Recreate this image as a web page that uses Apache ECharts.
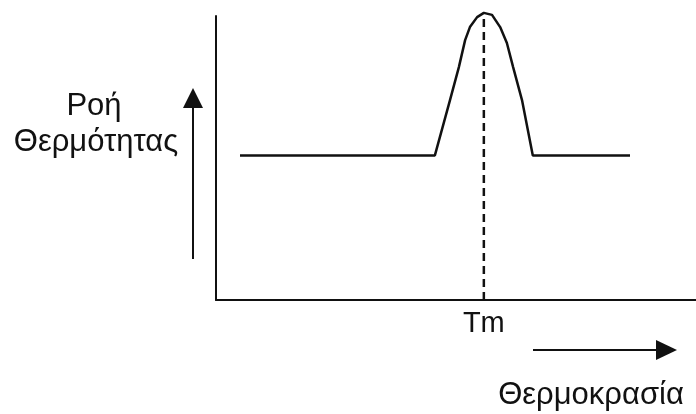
<!DOCTYPE html>
<html>
<head>
<meta charset="utf-8">
<script src="https://cdn.jsdelivr.net/npm/echarts@6/dist/echarts.min.js"></script>
<style>html,body{margin:0;padding:0;background:#fff}#c{width:696px;height:414px}</style>
</head>
<body>
<div id="c"></div>
<script>
// Temperature (arbitrary units, 0-100) and heat flow (arbitrary units, 0-100)
const temperature = [5, 45.6, 48.75, 50.6, 51.9, 52.9, 54.4, 55.8, 57.5, 59.2, 60.6, 61.9, 63.75, 66.0, 86.25];
const heatFlow    = [50.9, 50.9, 70.4, 82.0, 91.5, 96.1, 99.6, 101.1, 100.4, 96.1, 90.5, 82.0, 70.4, 50.9, 50.9];
const tmValue = 55.8;
const tmPeak = 101.1;
const xTickValues = [tmValue];
const xTickLabels = ['Tm'];
const yLabelLines = ['Ροή', 'Θερμότητας'];
const xLabel = 'Θερμοκρασία';

const FONT = '"Liberation Sans", Arial, sans-serif';
const chart = echarts.init(document.getElementById('c'), null, {renderer: 'canvas'});
const dataPts = temperature.map((t, i) => [t, heatFlow[i]]);

chart.setOption({
  animation: false,
  backgroundColor: '#fff',
  grid: {left: 216, right: 0, top: 16, bottom: 114},
  xAxis: {
    type: 'value', min: 0, max: 100,
    axisLine: {show: true, lineStyle: {color: '#111', width: 2}},
    axisTick: {show: false},
    splitLine: {show: false},
    axisLabel: {
      customValues: xTickValues,
      formatter: v => xTickLabels[xTickValues.indexOf(v)] ?? '',
      color: '#111', fontFamily: FONT, fontSize: 29, margin: 9
    }
  },
  yAxis: {
    type: 'value', min: 0, max: 100,
    axisLine: {show: true, lineStyle: {color: '#111', width: 2}},
    axisTick: {show: false},
    axisLabel: {show: false},
    splitLine: {show: false}
  },
  series: [{
    type: 'line',
    data: [[tmValue, 0], [tmValue, tmPeak]],
    clip: false,
    symbol: 'none',
    z: 1,
    lineStyle: {color: '#111', width: 2.5, type: [8, 5]}
  }, {
    type: 'line',
    data: dataPts,
    clip: false,
    symbol: 'none',
    z: 2,
    lineStyle: {color: '#111', width: 2.5}
  }],
  graphic: [
    {type: 'text', x: 94, y: 106, style: {text: yLabelLines[0], font: '31px ' + FONT, fill: '#111', align: 'center', verticalAlign: 'middle'}},
    {type: 'text', x: 96, y: 142, style: {text: yLabelLines[1], font: '31px ' + FONT, fill: '#111', align: 'center', verticalAlign: 'middle'}},
    {type: 'text', x: 591, y: 395, style: {text: xLabel, font: '31px ' + FONT, fill: '#111', align: 'center', verticalAlign: 'middle'}},
    {type: 'line', shape: {x1: 193, y1: 259, x2: 193, y2: 106}, style: {stroke: '#111', lineWidth: 2}},
    {type: 'polygon', shape: {points: [[193, 88], [183, 108], [203, 108]]}, style: {fill: '#111'}},
    {type: 'line', shape: {x1: 533, y1: 350, x2: 658, y2: 350}, style: {stroke: '#111', lineWidth: 2}},
    {type: 'polygon', shape: {points: [[677, 350], [656, 340], [656, 360]]}, style: {fill: '#111'}}
  ]
});
</script>
</body>
</html>
